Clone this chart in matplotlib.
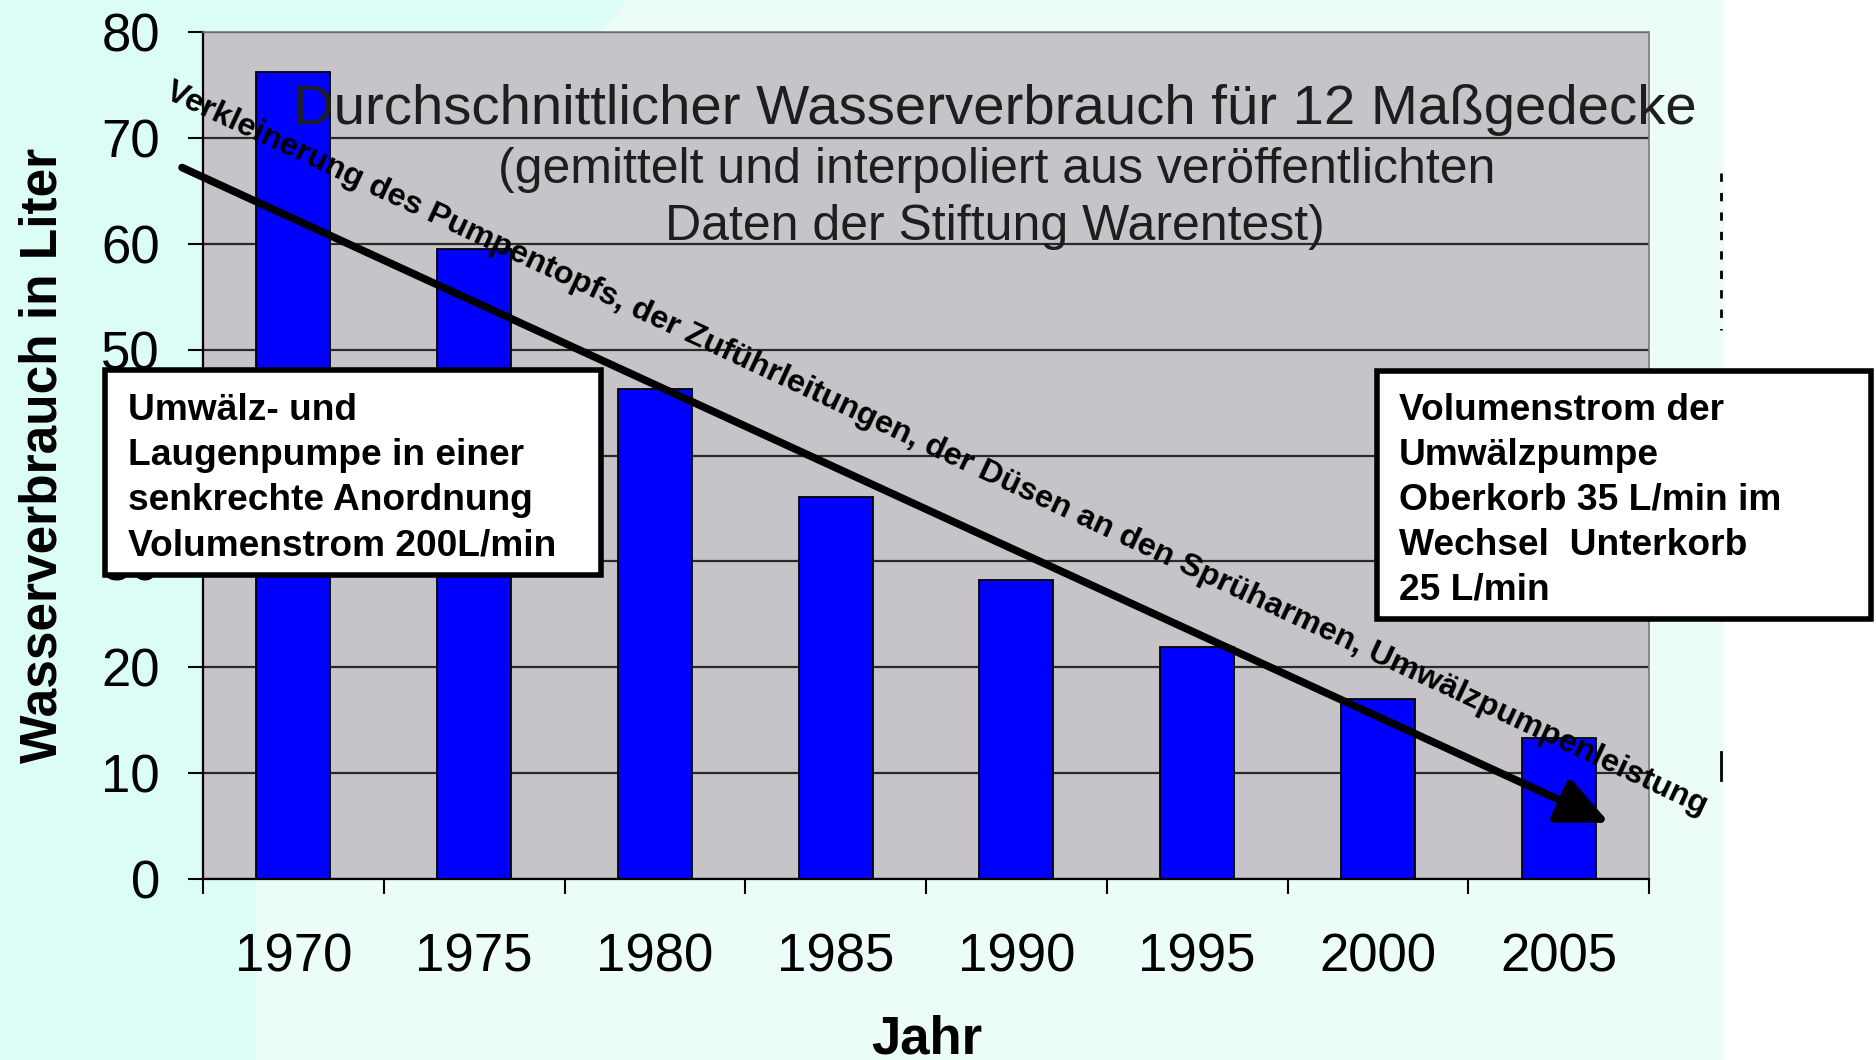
import numpy as np
import matplotlib
matplotlib.use('Agg')
import matplotlib.pyplot as plt
from matplotlib.patches import Rectangle, Polygon
from matplotlib.lines import Line2D

plt.rcParams['font.family'] = ['Liberation Sans', 'DejaVu Sans']

years = ['1970', '1975', '1980', '1985', '1990', '1995', '2000', '2005']
water = [76.2, 59.5, 46.3, 36.1, 28.2, 21.9, 17.0, 13.3]
yticks = [0, 10, 20, 30, 40, 50, 60, 70, 80]

title1 = 'Durchschnittlicher Wasserverbrauch für 12 Maßgedecke'
title2 = '(gemittelt und interpoliert aus veröffentlichten'
title3 = 'Daten der Stiftung Warentest)'
arrow_text = ('Verkleinerung des Pumpentopfs, der Zuführleitungen, der Düsen '
              'an den Sprüharmen, Umwälzpumpenleistung')
box_left = ['Umwälz- und', 'Laugenpumpe in einer', 'senkrechte Anordnung',
            'Volumenstrom 200L/min']
box_right = ['Volumenstrom der', 'Umwälzpumpe', 'Oberkorb 35 L/min im',
             'Wechsel  Unterkorb', '25 L/min']

W, H = 1876, 1060
fig = plt.figure(figsize=(W / 100, H / 100), dpi=100, facecolor='white')


def fx(px):
    return px / W


def fy(py):
    return 1 - py / H


# background panels
fig.patches.append(Rectangle((0, 0), fx(1723), 1, transform=fig.transFigure,
                             color='#ecfdf9', zorder=-10))
fig.patches.append(Polygon([(0, 1), (fx(626), 1), (fx(255), fy(460)),
                            (fx(255), 0), (0, 0)], closed=True,
                           transform=fig.transFigure, color='#dcfdf6', zorder=-9))

ax = fig.add_axes([fx(203), fy(879), fx(1649 - 203), (879 - 32) / H])
ax.set_facecolor('#c6c4c8')

x = np.arange(len(years))
ax.bar(x, water, width=0.41, color='#0000ff', edgecolor='black', linewidth=1.3, zorder=2)

ax.set_xlim(-0.5, len(years) - 0.5)
ax.set_ylim(0, 80)
ax.set_yticks(yticks)
ax.yaxis.grid(True, color='#2a2a2a', linewidth=1.6, zorder=1)
ax.set_axisbelow(True)

ax.set_xticks(np.arange(len(years) + 1) - 0.5)
ax.set_xticklabels([])
ax.set_xticks(x, minor=True)
ax.set_xticklabels(years, minor=True)
ax.tick_params(axis='x', which='major', direction='out', length=11, width=1.5, color='black')
ax.tick_params(axis='x', which='minor', length=0, labelsize=38, pad=38.5)
ax.tick_params(axis='y', direction='out', length=11, width=1.5, labelsize=38, pad=20)

for s in ['left', 'bottom']:
    ax.spines[s].set_color('black')
    ax.spines[s].set_linewidth(1.6)
for s in ['top', 'right']:
    ax.spines[s].set_color('#7a7a7a')
    ax.spines[s].set_linewidth(1.2)

ax.set_ylabel('Wasserverbrauch in Liter', fontsize=37, fontweight='bold')
ax.yaxis.set_label_coords((68 - 203) / 1446, 0.5)
fig.text(fx(927), fy(1040), 'Jahr', fontsize=38, fontweight='bold', ha='center', va='center')

# title inside plot
fig.text(fx(995), fy(110), title1, fontsize=40.6, color='#1e1e1e', ha='center', va='center', zorder=5)
fig.text(fx(997), fy(170), title2, fontsize=36, color='#1e1e1e', ha='center', va='center', zorder=5)
fig.text(fx(995), fy(227), title3, fontsize=36, color='#1e1e1e', ha='center', va='center', zorder=5)

# arrow with rotated text
arrow_start = (-0.616, 67.2)
arrow_end = (7.28, 5.3)
ax.annotate('', xy=arrow_end, xytext=arrow_start, annotation_clip=False,
            arrowprops=dict(arrowstyle='-|>,head_length=1.1,head_width=0.5',
                            color='black', lw=5.5, mutation_scale=28,
                            shrinkA=0, shrinkB=0), zorder=6)
ax.text(3.556, 40.6, arrow_text, fontsize=23.3, fontweight='bold', rotation=-25,
        rotation_mode='anchor', ha='center', va='center', zorder=6, clip_on=False)


def text_box(x0, y0, x1, y1, lines, tx, ty0, step):
    fig.patches.append(Rectangle((fx(x0), fy(y1)), fx(x1 - x0), (y1 - y0) / H,
                                 transform=fig.transFigure, facecolor='white',
                                 edgecolor='black', linewidth=4, zorder=7))
    for i, line in enumerate(lines):
        fig.text(fx(tx), fy(ty0 + i * step), line, fontsize=26.7, fontweight='bold',
                 ha='left', va='baseline', zorder=8)


text_box(105, 370, 601, 575, box_left, 128, 420, 45)
text_box(1377, 371, 1871, 619, box_right, 1399, 420, 45)

# stray dotted marks at right edge of slide
fig.lines.append(Line2D([fx(1721), fx(1721)], [fy(173), fy(330)], transform=fig.transFigure,
                        color='black', lw=2, linestyle=(0, (3, 4)), zorder=3))
fig.lines.append(Line2D([fx(1721), fx(1721)], [fy(752), fy(780)], transform=fig.transFigure,
                        color='black', lw=2, zorder=3))

fig.savefig('out.png', dpi=100, facecolor=fig.get_facecolor())
